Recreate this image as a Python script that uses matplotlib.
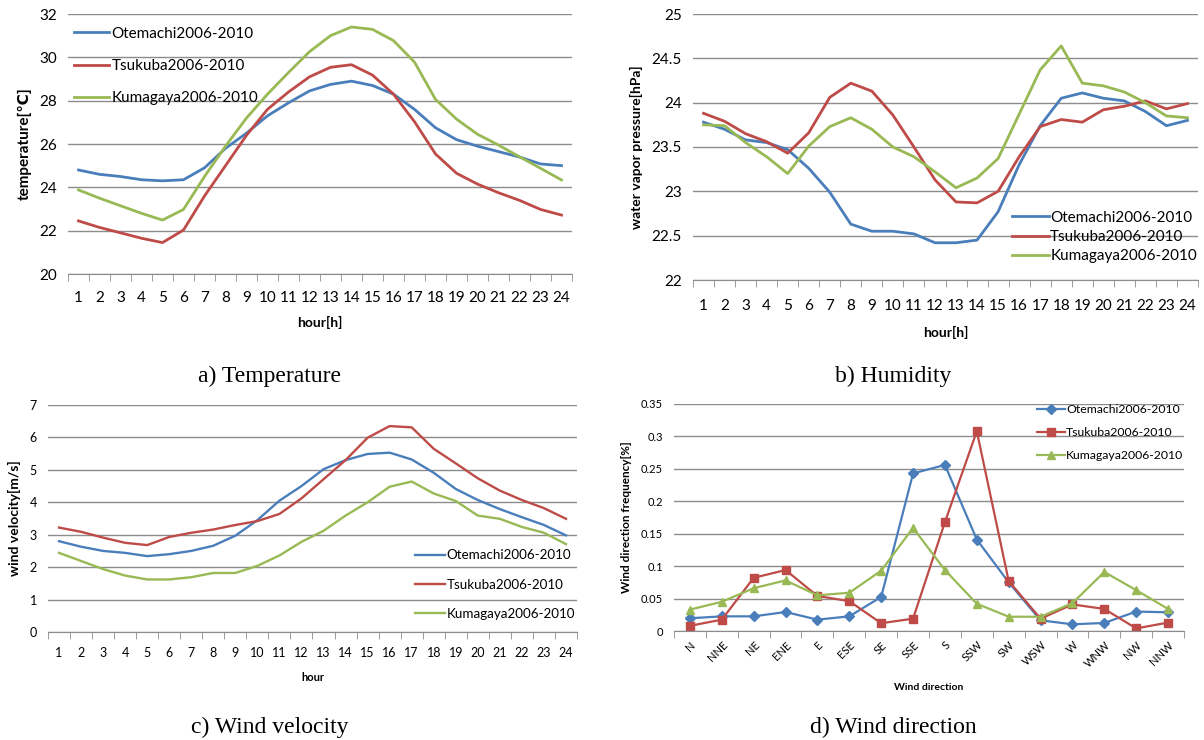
import matplotlib
matplotlib.use("Agg")
import matplotlib.pyplot as plt
import numpy as np

plt.rcParams['font.family'] = ['Lato', 'DejaVu Sans', 'Noto Sans CJK JP']

hours = list(range(1, 25))
stations = ['Otemachi2006-2010', 'Tsukuba2006-2010', 'Kumagaya2006-2010']
colors = ['#4A7EBB', '#BE4B48', '#98B954']

# a) temperature [C]
temp_otemachi = [24.8, 24.6, 24.5, 24.35, 24.3, 24.35, 24.9, 25.8, 26.5, 27.3, 27.9, 28.45,
                 28.75, 28.9, 28.7, 28.3, 27.6, 26.75, 26.2, 25.9, 25.65, 25.4, 25.08, 25.0]
temp_tsukuba = [22.45, 22.15, 21.9, 21.65, 21.45, 22.03, 23.6, 25.0, 26.4, 27.6, 28.4, 29.1,
                29.54, 29.66, 29.18, 28.3, 27.03, 25.54, 24.65, 24.15, 23.75, 23.4, 22.98, 22.72]
temp_kumagaya = [23.88, 23.5, 23.15, 22.8, 22.49, 22.98, 24.5, 25.9, 27.2, 28.3, 29.3, 30.26,
                 31.0, 31.4, 31.29, 30.77, 29.78, 28.06, 27.15, 26.45, 25.95, 25.41, 24.88, 24.34]

# b) water vapor pressure [hPa]
hum_otemachi = [23.78, 23.7, 23.58, 23.55, 23.47, 23.26, 22.99, 22.63, 22.55, 22.55, 22.52, 22.42,
                22.42, 22.45, 22.77, 23.3, 23.74, 24.05, 24.11, 24.05, 24.02, 23.9, 23.74, 23.8]
hum_tsukuba = [23.88, 23.79, 23.65, 23.56, 23.43, 23.66, 24.06, 24.22, 24.13, 23.86, 23.5, 23.13,
               22.88, 22.87, 23.0, 23.39, 23.73, 23.81, 23.78, 23.92, 23.96, 24.02, 23.93, 23.99]
hum_kumagaya = [23.75, 23.74, 23.55, 23.39, 23.2, 23.51, 23.73, 23.83, 23.7, 23.5, 23.39, 23.22,
                23.04, 23.15, 23.37, 23.87, 24.37, 24.64, 24.22, 24.19, 24.12, 24.0, 23.85, 23.83]

# c) wind velocity [m/s]
wind_otemachi = [2.8, 2.63, 2.5, 2.44, 2.34, 2.4, 2.5, 2.66, 2.97, 3.45, 4.05, 4.5,
                 5.02, 5.3, 5.49, 5.53, 5.32, 4.91, 4.41, 4.07, 3.79, 3.54, 3.3, 2.98]
wind_tsukuba = [3.22, 3.09, 2.91, 2.75, 2.68, 2.93, 3.06, 3.16, 3.3, 3.42, 3.64, 4.12,
                4.71, 5.3, 5.99, 6.35, 6.31, 5.65, 5.2, 4.74, 4.36, 4.07, 3.82, 3.49]
wind_kumagaya = [2.44, 2.19, 1.94, 1.74, 1.62, 1.62, 1.69, 1.82, 1.82, 2.04, 2.36, 2.78,
                 3.12, 3.59, 4.0, 4.48, 4.64, 4.27, 4.04, 3.59, 3.49, 3.24, 3.06, 2.71]

# d) wind direction frequency
directions = ['N', 'NNE', 'NE', 'ENE', 'E', 'ESE', 'SE', 'SSE', 'S', 'SSW', 'SW', 'WSW',
              'W', 'WNW', 'NW', 'NNW']
dir_otemachi = [0.0196, 0.0226, 0.0226, 0.0293, 0.0175, 0.0226, 0.0525, 0.243, 0.256, 0.141,
                0.075, 0.0165, 0.0103, 0.0124, 0.030, 0.0288]
dir_tsukuba = [0.008, 0.0175, 0.082, 0.094, 0.054, 0.046, 0.012, 0.019, 0.168, 0.308,
               0.077, 0.019, 0.041, 0.034, 0.004, 0.013]
dir_kumagaya = [0.033, 0.045, 0.066, 0.078, 0.055, 0.059, 0.093, 0.159, 0.094, 0.042,
                0.022, 0.022, 0.043, 0.091, 0.063, 0.034]

W, H = 1204, 740
fig = plt.figure(figsize=(W / 100, H / 100), dpi=100)


def add_axes(x0, y0, x1, y1):
    # pixel box (left, top, right, bottom) -> figure fraction
    return fig.add_axes([x0 / W, 1 - y1 / H, (x1 - x0) / W, (y1 - y0) / H])


def style(ax, ylim, yticks, ncat, tick_fs, xpad):
    ax.set_ylim(*ylim)
    ax.set_yticks(yticks)
    ax.set_xlim(-0.5, ncat - 0.5)
    ax.grid(axis='y', color='#8c8c8c', lw=1.0)
    ax.set_axisbelow(True)
    for s in ['top', 'right', 'left']:
        ax.spines[s].set_visible(False)
    ax.spines['bottom'].set_color('#8c8c8c')
    ax.tick_params(axis='y', length=0, labelsize=tick_fs, pad=8)
    ax.tick_params(axis='x', which='major', length=0, labelsize=tick_fs, pad=xpad)
    ax.set_xticks(np.arange(-0.5, ncat), minor=True)
    ax.tick_params(axis='x', which='minor', length=5, color='#8c8c8c', direction='out')


xh = np.arange(24)
lw = 2.0

# a) Temperature
ax = add_axes(68, 14, 572, 274)
for vals, name, c in zip([temp_otemachi, temp_tsukuba, temp_kumagaya], stations, colors):
    ax.plot(xh, vals, color=c, lw=lw, label=name)
style(ax, (20, 32), np.arange(20, 33, 2), 24, 11, 12.5)
ax.set_xticks(xh)
ax.set_xticklabels([str(h) for h in hours])
ax.set_ylabel('temperature[℃]', fontsize=11, fontweight='bold', labelpad=5)
ax.set_xlabel('hour[h]', fontsize=10, fontweight='bold', labelpad=7.5)
ax.legend(loc='upper left', frameon=False, fontsize=11, handlelength=2.3,
          labelspacing=1.2, handletextpad=0.15, borderaxespad=0.0,
          bbox_to_anchor=(0.0, 0.975))

# b) Humidity
ax = add_axes(693, 14, 1198, 280)
for vals, name, c in zip([hum_otemachi, hum_tsukuba, hum_kumagaya], stations, colors):
    ax.plot(xh, vals, color=c, lw=lw, label=name)
style(ax, (22, 25), np.arange(22, 25.01, 0.5), 24, 11, 14)
ax.set_yticklabels(['22', '22.5', '23', '23.5', '24', '24.5', '25'])
ax.set_xticks(xh)
ax.set_xticklabels([str(h) for h in hours])
ax.set_ylabel('water vapor pressure[hPa]', fontsize=10, fontweight='bold', labelpad=6)
ax.set_xlabel('hour[h]', fontsize=10, fontweight='bold', labelpad=9)
ax.legend(loc='lower right', frameon=False, fontsize=11, handlelength=2.4,
          labelspacing=0.35, handletextpad=0.1, borderaxespad=0.0,
          bbox_to_anchor=(1.01, 0.04))

# c) Wind velocity
ax = add_axes(48, 405, 577, 632)
for vals, name, c in zip([wind_otemachi, wind_tsukuba, wind_kumagaya], stations, colors):
    ax.plot(xh, vals, color=c, lw=lw * 0.85, label=name)
style(ax, (0, 7), np.arange(0, 8), 24, 9, 11)
ax.set_xticks(xh)
ax.set_xticklabels([str(h) for h in hours])
ax.set_ylabel('wind velocity[m/s]', fontsize=10, fontweight='bold', labelpad=6)
ax.set_xlabel('hour', fontsize=8, fontweight='bold', labelpad=9)
ax.legend(loc='lower right', frameon=False, fontsize=9.6, handlelength=2.25,
          labelspacing=1.3, handletextpad=0.1, borderaxespad=0.0,
          bbox_to_anchor=(1.006, 0.03))

# d) Wind direction
ax = add_axes(674, 404, 1184, 631)
xd = np.arange(len(directions))
for vals, name, c, m in zip([dir_otemachi, dir_tsukuba, dir_kumagaya], stations, colors,
                            ['D', 's', '^']):
    ax.plot(xd, vals, color=c, lw=1.6, marker=m, ms=5 if m == 'D' else 6, label=name)
style(ax, (0, 0.35), np.arange(0, 0.351, 0.05), len(directions), 8, 6)
ax.set_yticklabels(['0', '0.05', '0.1', '0.15', '0.2', '0.25', '0.3', '0.35'])
ax.set_xticks(xd)
ax.set_xticklabels(directions, rotation=45, ha='right', rotation_mode='anchor')
ax.set_ylabel('Wind direction frequency[%]', fontsize=8.5, fontweight='bold', labelpad=6)
ax.set_xlabel('Wind direction', fontsize=7.5, fontweight='bold', labelpad=10)
ax.legend(loc='upper right', frameon=False, fontsize=8.8, handlelength=2.3,
          labelspacing=1.0, handletextpad=0.1, borderaxespad=0.0,
          bbox_to_anchor=(1.008, 1.022))

# sub-figure captions
cap = dict(fontsize=17, family='Liberation Serif', ha='center', va='center')
fig.text(270 / W, 1 - 376 / H, 'a) Temperature', **cap)
fig.text(893 / W, 1 - 376 / H, 'b) Humidity', **cap)
fig.text(270 / W, 1 - 727 / H, 'c) Wind velocity', **cap)
fig.text(893 / W, 1 - 727 / H, 'd) Wind direction', **cap)

fig.savefig('out.png', dpi=100)
